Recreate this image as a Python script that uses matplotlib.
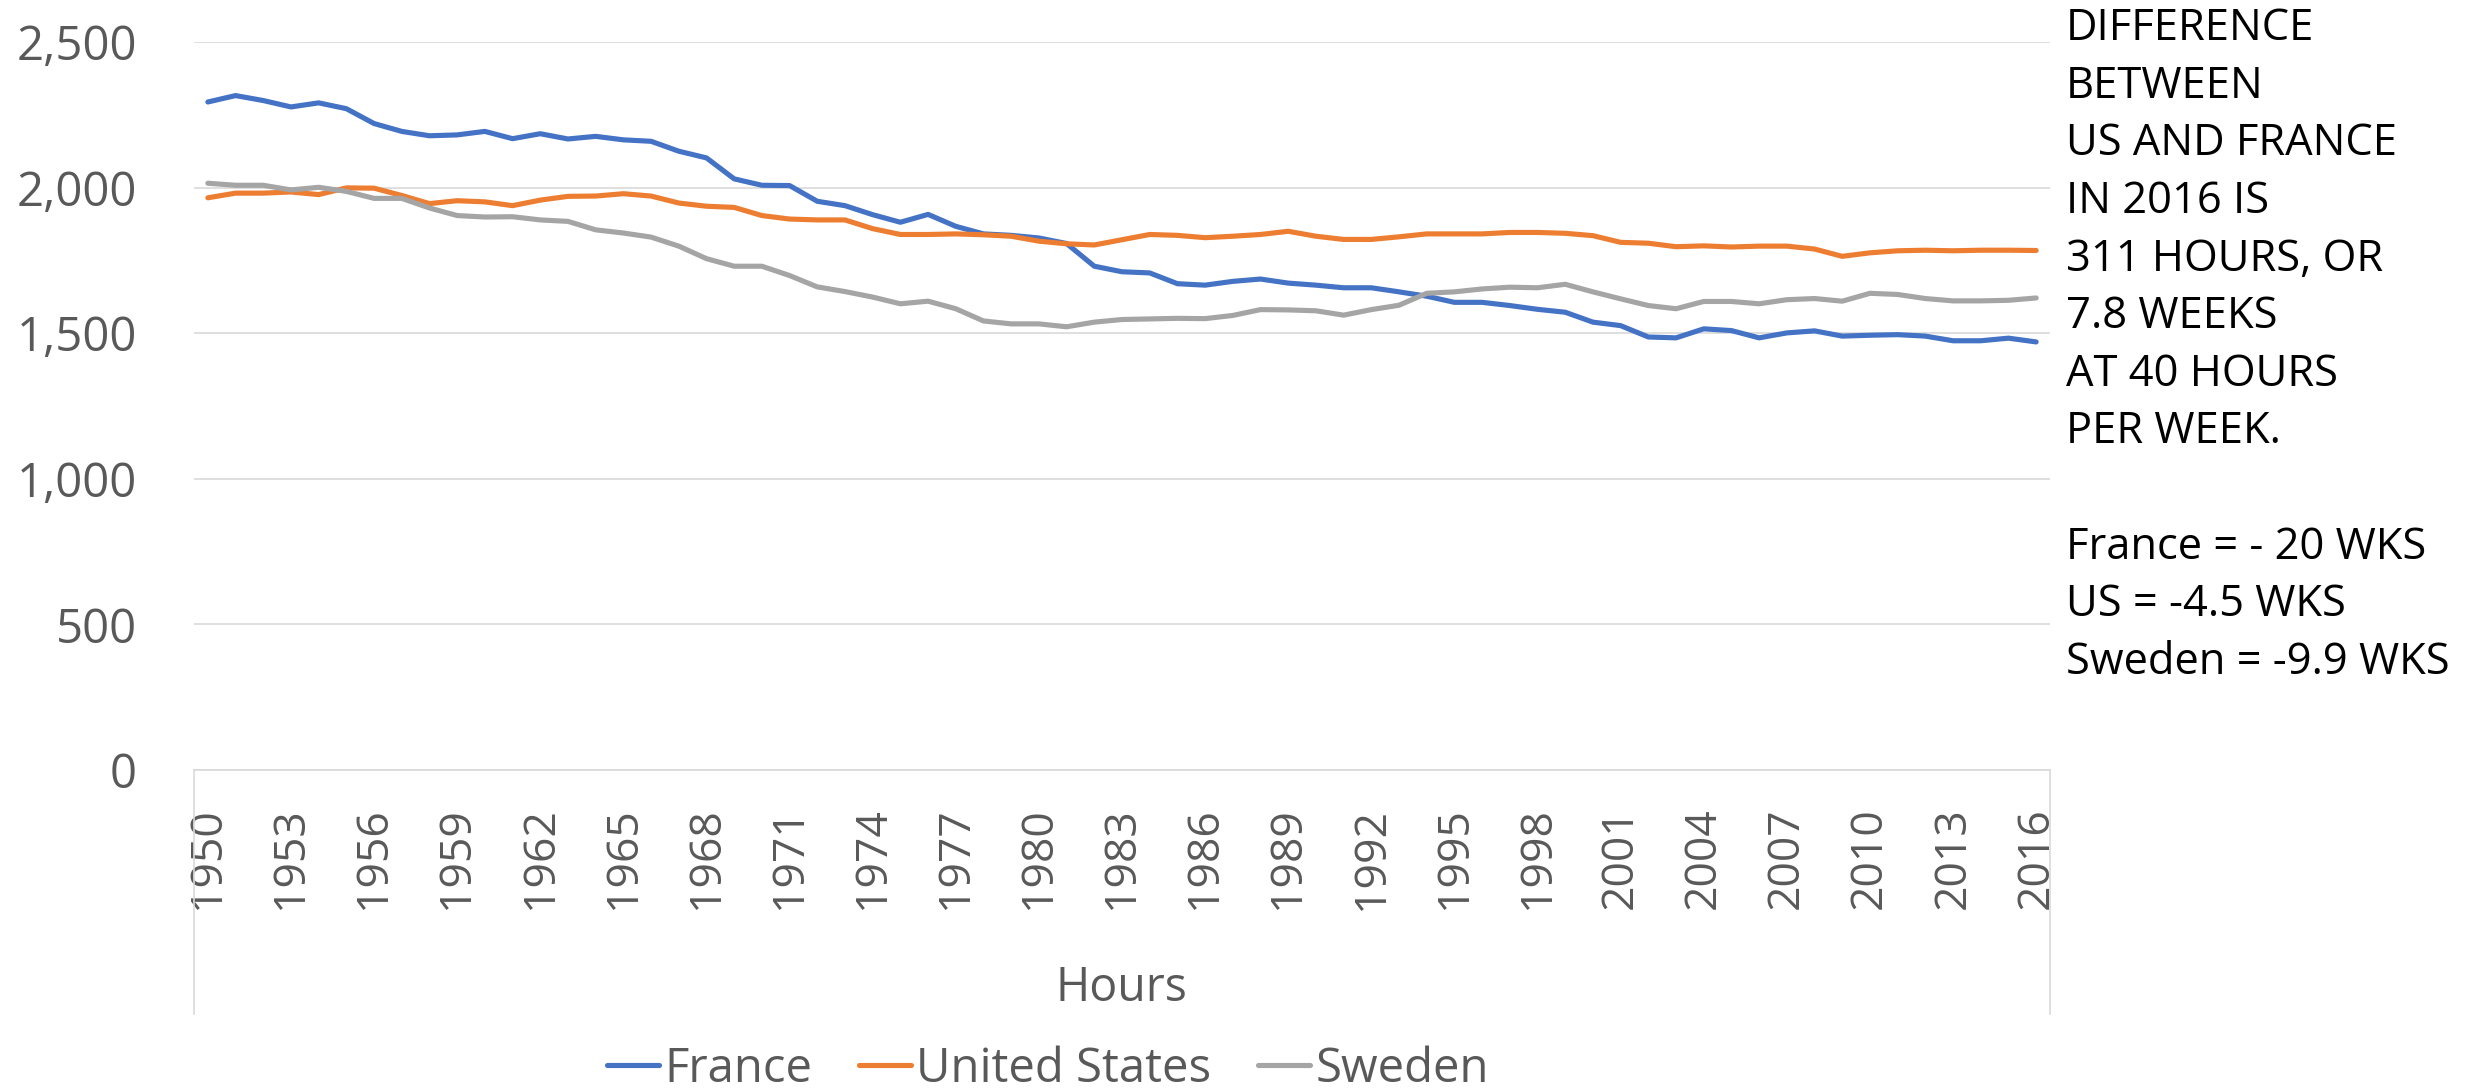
import matplotlib
matplotlib.use("Agg")
import matplotlib.pyplot as plt
from matplotlib.ticker import FuncFormatter

years = list(range(1950, 2017))

france = [2294, 2316, 2299, 2277, 2291, 2271, 2220, 2193, 2178, 2181,
          2193, 2168, 2185, 2167, 2176, 2164, 2159, 2125, 2102, 2030,
          2008, 2007, 1953, 1938, 1907, 1881, 1908, 1867, 1841, 1836,
          1827, 1808, 1730, 1711, 1707, 1670, 1665, 1678, 1686, 1672,
          1665, 1656, 1656, 1642, 1627, 1606, 1606, 1595, 1582, 1572,
          1538, 1526, 1487, 1484, 1515, 1509, 1484, 1501, 1508, 1490,
          1493, 1495, 1490, 1474, 1474, 1483, 1470]

united_states = [1965, 1981, 1981, 1985, 1976, 1999, 1998, 1973, 1945, 1955,
                 1951, 1938, 1957, 1970, 1971, 1979, 1971, 1947, 1936, 1932,
                 1904, 1892, 1889, 1889, 1859, 1839, 1839, 1841, 1838, 1833,
                 1816, 1807, 1803, 1821, 1839, 1836, 1828, 1833, 1839, 1850,
                 1833, 1822, 1822, 1831, 1841, 1841, 1841, 1846, 1846, 1843,
                 1835, 1812, 1809, 1797, 1800, 1796, 1799, 1799, 1789, 1764,
                 1776, 1783, 1785, 1783, 1785, 1785, 1784]

sweden = [2015, 2008, 2008, 1992, 2001, 1987, 1963, 1963, 1930, 1904,
          1899, 1900, 1889, 1884, 1855, 1844, 1830, 1799, 1756, 1730,
          1730, 1698, 1659, 1643, 1624, 1601, 1610, 1584, 1542, 1532,
          1532, 1522, 1538, 1547, 1549, 1551, 1550, 1561, 1581, 1580,
          1577, 1562, 1581, 1596, 1637, 1642, 1652, 1658, 1656, 1668,
          1642, 1618, 1595, 1584, 1609, 1609, 1601, 1615, 1619, 1610,
          1637, 1633, 1619, 1611, 1611, 1613, 1621]

series_names = ["France", "United States", "Sweden"]
series_colors = ["#4472C4", "#ED7D31", "#A5A5A5"]
yticks = [0, 500, 1000, 1500, 2000, 2500]
axis_title = "Hours"
note_lines = ["DIFFERENCE", "BETWEEN", "US AND FRANCE", "IN 2016 IS",
              "311 HOURS, OR", "7.8 WEEKS", "AT 40 HOURS", "PER WEEK.", "",
              "France = - 20 WKS", "US = -4.5 WKS", "Sweden = -9.9 WKS"]

FONT = "Open Sans"
TXT = "#595959"
GRID = "#D9D9D9"

W, H = 2466, 1091
fig = plt.figure(figsize=(W / 100, H / 100), dpi=100)
ax = fig.add_axes([194 / W, 321 / H, 1856 / W, 728 / H])

x = list(range(len(years)))
for vals, name, col in zip([france, united_states, sweden], series_names, series_colors):
    ax.plot(x, vals, color=col, lw=3.7, label=name,
            solid_capstyle="round", solid_joinstyle="round", zorder=3)

ax.set_xlim(-0.5, len(years) - 0.5)
ax.set_ylim(0, 2500)
ax.set_yticks(yticks)
ax.yaxis.set_major_formatter(FuncFormatter(lambda v, p: f"{int(v):,}"))
ax.grid(axis="y", color=GRID, lw=1.2, zorder=0)
ax.set_axisbelow(True)

tick_idx = list(range(0, len(years), 3))
ax.set_xticks(tick_idx)
ax.set_xticklabels([str(years[i]) for i in tick_idx], rotation=90,
                   fontsize=32, color=TXT, family=FONT)
for lab in ax.get_yticklabels():
    lab.set_fontsize(34)
    lab.set_color(TXT)
    lab.set_family(FONT)
ax.tick_params(axis="y", length=0, pad=41)
ax.tick_params(axis="x", length=0, pad=27)

for s in ["top", "right", "left"]:
    ax.spines[s].set_visible(False)
ax.spines["bottom"].set_color(GRID)
ax.spines["bottom"].set_linewidth(1.2)

# vertical separators below the category axis
for xa in (0, 1):
    ax.plot([xa, xa], [0, -0.335], transform=ax.transAxes, color=GRID,
            lw=1.2, clip_on=False)

fig.text(1121 / W, 1 - 988 / H, axis_title, ha="center", va="center",
         fontsize=33.5, color=TXT, family=FONT)

leg = fig.legend(loc="center", bbox_to_anchor=(1048 / W, 1 - 1069 / H), ncol=3,
                 frameon=False, prop={"family": FONT, "size": 34},
                 handlelength=1.1, handletextpad=0.12, columnspacing=0.98,
                 borderaxespad=0, borderpad=0)
for t in leg.get_texts():
    t.set_color(TXT)
for ln in leg.get_lines():
    ln.set_linewidth(3.7)
    ln.set_solid_capstyle("round")

y0 = 29
dy = 57.6
for i, line in enumerate(note_lines):
    if line:
        fig.text(2066 / W, 1 - (y0 + i * dy) / H, line, ha="left", va="center",
                 fontsize=31.3, color="black", family=FONT)

fig.savefig("out.png", dpi=100, facecolor="white")
